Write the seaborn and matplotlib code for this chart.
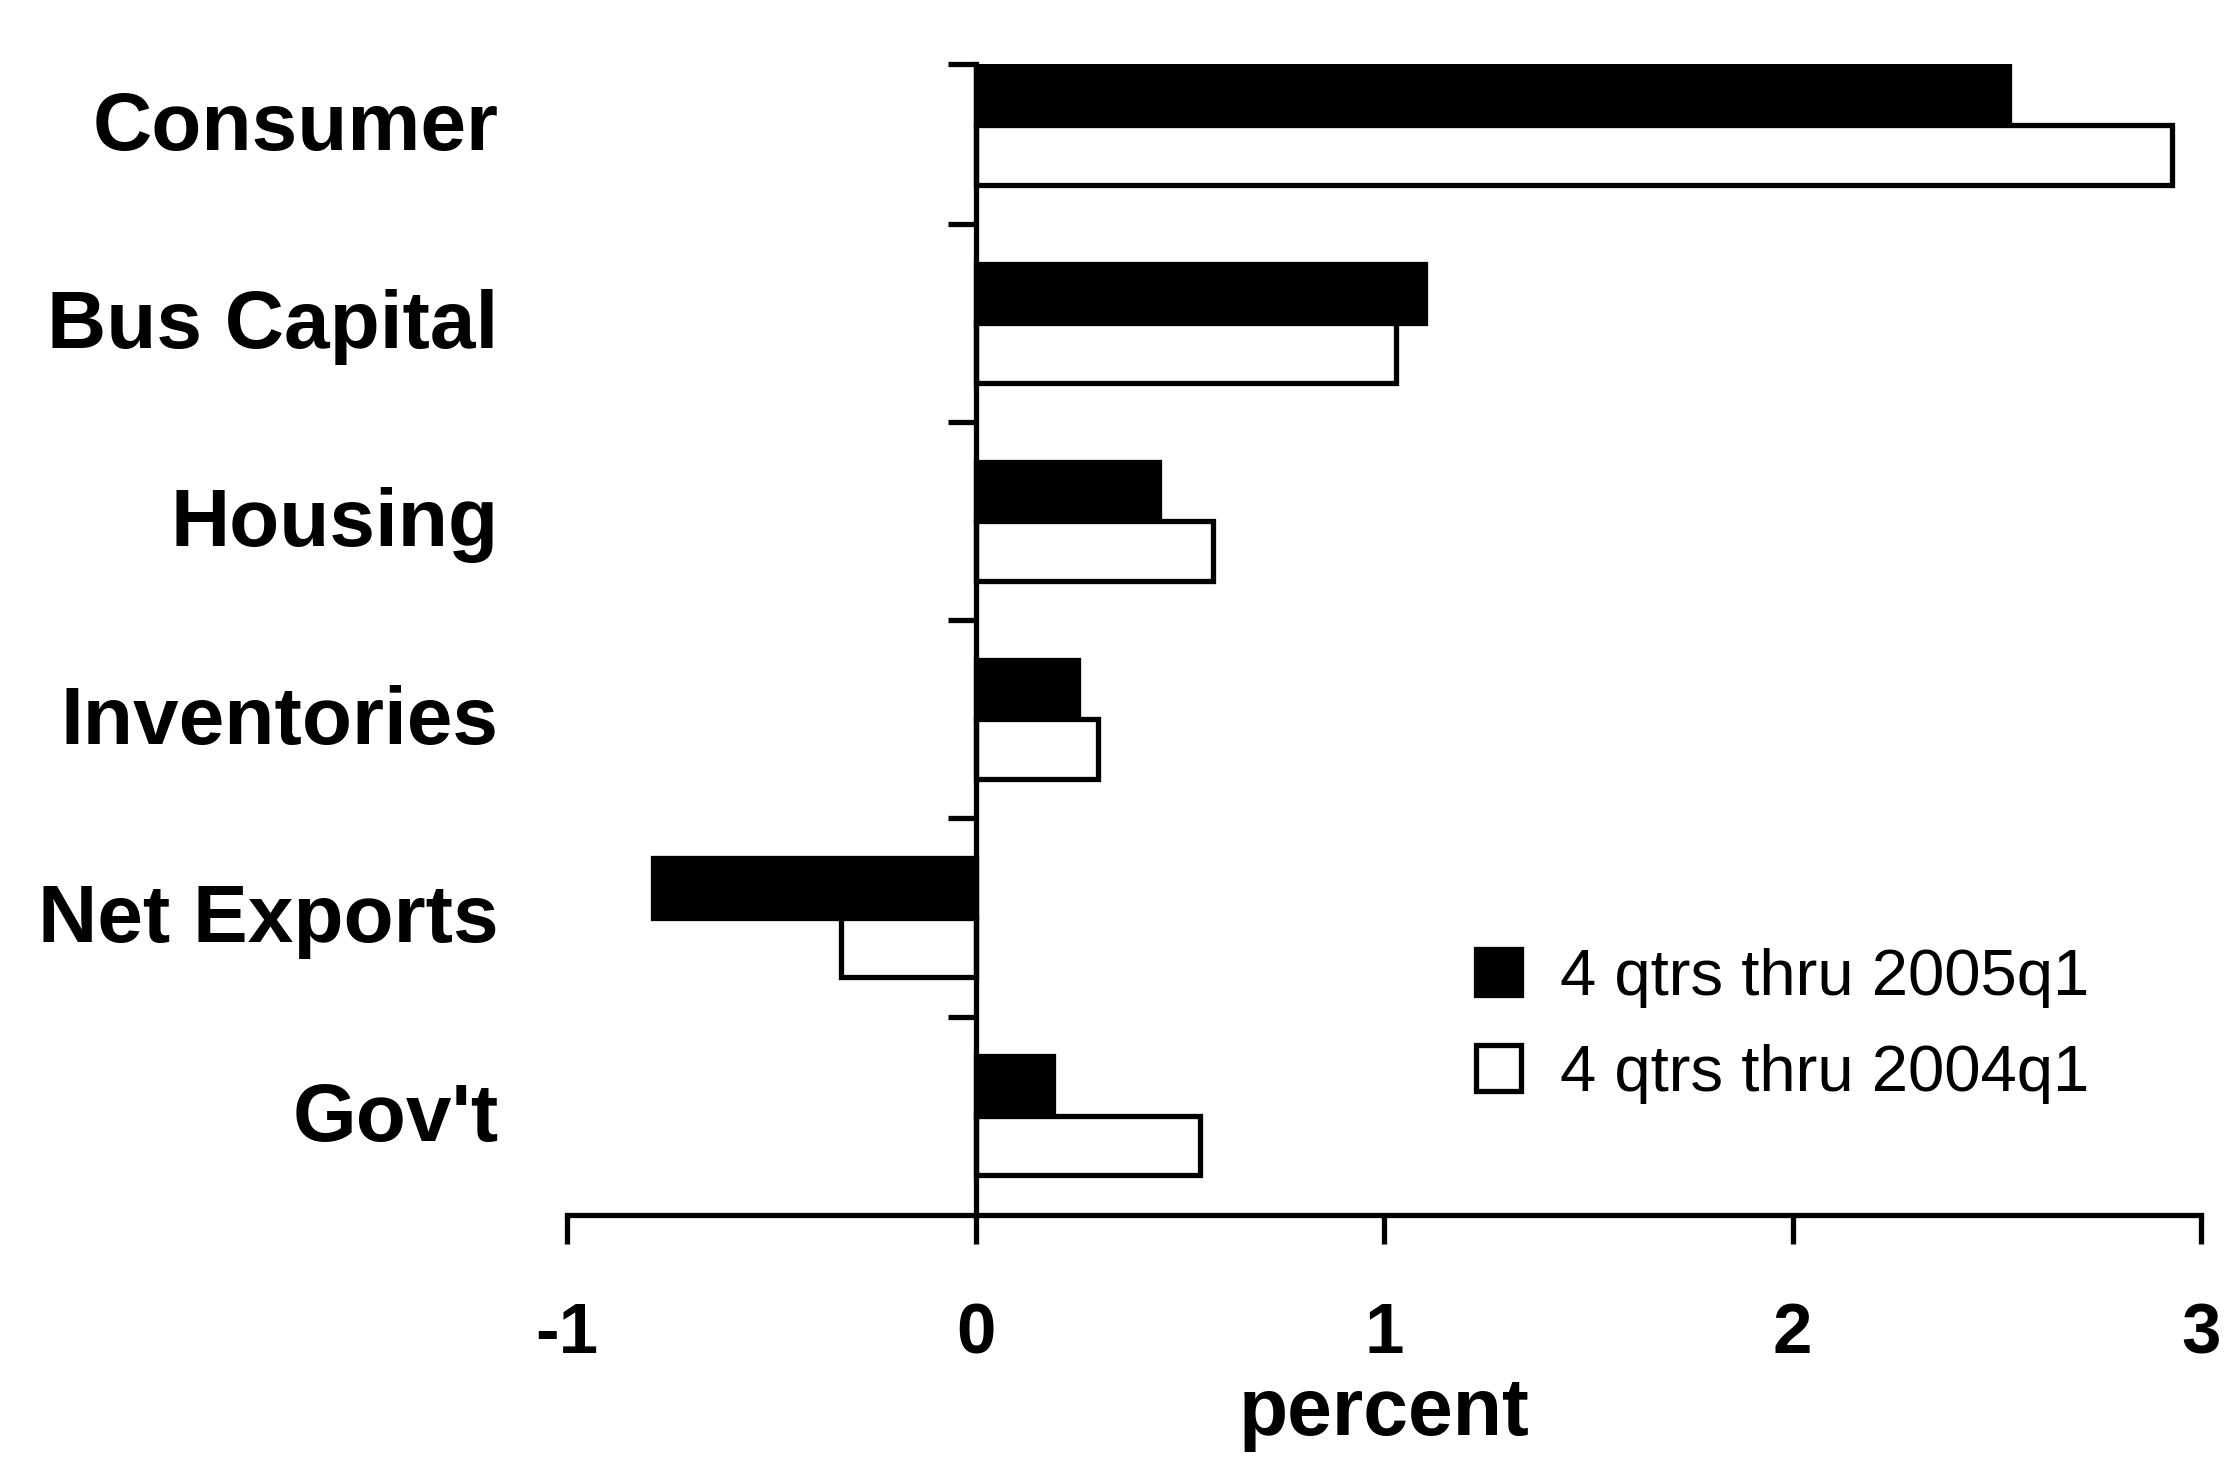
import matplotlib
matplotlib.use("Agg")
import matplotlib.pyplot as plt
from matplotlib.patches import Patch
import pandas as pd
import seaborn as sns

categories = ["Consumer", "Bus Capital", "Housing", "Inventories", "Net Exports", "Gov't"]
series_names = ["4 qtrs thru 2005q1", "4 qtrs thru 2004q1"]
vals_2005 = [2.53, 1.10, 0.45, 0.25, -0.79, 0.19]
vals_2004 = [2.93, 1.03, 0.58, 0.30, -0.33, 0.55]
x_ticks = [-1, 0, 1, 2, 3]

df = pd.DataFrame({
    "category": categories * 2,
    "series": [series_names[0]] * len(categories) + [series_names[1]] * len(categories),
    "value": vals_2005 + vals_2004,
})

sns.set_style("white")
plt.rcParams["font.family"] = ["Liberation Sans", "DejaVu Sans"]
plt.rcParams.update({"text.color": "black", "axes.labelcolor": "black",
                     "xtick.color": "black", "ytick.color": "black"})

fig = plt.figure(figsize=(22.24, 14.74), dpi=100)
ax = fig.add_axes([0.255, 0.176, 0.7347, 0.7806])

lw = 3.8
sns.barplot(data=df, x="value", y="category", hue="series", order=categories,
            hue_order=series_names, palette=["black", "white"], orient="h",
            width=0.6, edgecolor="black", linewidth=lw, saturation=1,
            legend=False, ax=ax)

ax.set_xlim(-1, 3)
ax.set_ylim(5.5, -0.31)

# spines: left one sits at x=0
for s in ["top", "right"]:
    ax.spines[s].set_visible(False)
ax.spines["left"].set_position(("data", 0))
for s in ["left", "bottom"]:
    ax.spines[s].set_linewidth(lw)
    ax.spines[s].set_color("black")

ax.set_xticks(x_ticks)
ax.set_xticklabels([str(t) for t in x_ticks], fontsize=51, fontweight="bold")
ax.tick_params(axis="x", bottom=True, direction="out", length=21, width=lw,
               pad=42, colors="black")

ax.set_yticks([-0.31, 0.5, 1.5, 2.5, 3.5, 4.5])
ax.set_yticklabels([])
ax.tick_params(axis="y", left=True, direction="out", length=20, width=lw, colors="black")
ax.set_ylabel("")

for i, name in enumerate(categories):
    ax.text(-1.168, i + 0.02, name, ha="right", va="center", fontsize=59,
            fontweight="bold", color="black", clip_on=False)

ax.set_xlabel("percent", fontsize=58, fontweight="bold", labelpad=6)

handles = [Patch(facecolor="black", edgecolor="black", linewidth=lw),
           Patch(facecolor="white", edgecolor="black", linewidth=lw)]
ax.legend(handles, series_names, loc="lower left", bbox_to_anchor=(0.52, 0.045),
          frameon=False, fontsize=47, handlelength=0.7, handleheight=0.7,
          handletextpad=0.6, labelspacing=0.55)

fig.savefig("out.png", dpi=100)
